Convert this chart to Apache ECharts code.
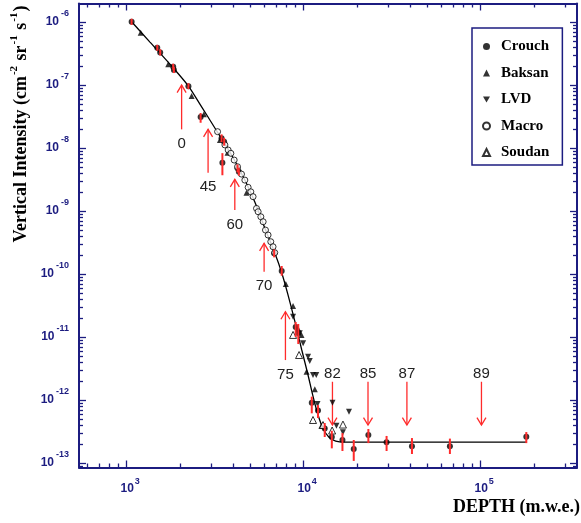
<!DOCTYPE html>
<html><head><meta charset="utf-8">
<script src="https://cdn.jsdelivr.net/npm/echarts@6/dist/echarts.min.js"></script>
<style>html,body{margin:0;padding:0;background:#fff}#c{width:581px;height:523px}</style>
</head><body><div id="c"></div>
<script>
// ---------- data (depth in m.w.e., intensity in cm^-2 sr^-1 s^-1) ----------
const crouchDepth = [1067, 1489, 1547, 1832, 1849, 2233, 2617, 3436, 3554, 3474, 4229, 4303, 6808, 7515, 9016, 9322, 11110, 12050, 13150, 14420, 16560, 19180, 23200, 29400, 40900, 67000, 181000];
const crouchIntensity = [1.01e-6, 3.91e-7, 3.30e-7, 1.95e-7, 1.73e-7, 9.6e-8, 3.10e-8, 1.43e-8, 1.26e-8, 5.85e-9, 4.76e-9, 4.21e-9, 2.13e-10, 1.12e-10, 1.44e-11, 1.16e-11, 9.06e-13, 6.81e-13, 3.53e-13, 2.59e-13, 2.32e-13, 1.67e-13, 2.78e-13, 2.13e-13, 1.84e-13, 1.84e-13, 2.62e-13];
const crouchErrLow = [0.90e-6, 3.5e-7, 2.95e-7, 1.75e-7, 1.55e-7, 8.6e-8, 2.52e-8, 1.24e-8, 1.09e-8, 3.7e-9, 4.1e-9, 3.65e-9, 1.84e-10, 9.4e-11, 1.0e-11, 7.74e-12, 6.15e-13, 5.18e-13, 2.59e-13, 1.71e-13, 1.55e-13, 1.08e-13, 2.07e-13, 1.55e-13, 1.39e-13, 1.39e-13, 2.07e-13];
const crouchErrHigh = [1.13e-6, 4.35e-7, 3.7e-7, 2.18e-7, 1.93e-7, 1.07e-7, 3.6e-8, 1.65e-8, 1.45e-8, 8.3e-9, 5.5e-9, 4.85e-9, 2.46e-10, 1.34e-10, 1.73e-11, 1.61e-11, 1.13e-12, 8.3e-13, 4.32e-13, 3.26e-13, 2.99e-13, 2.32e-13, 3.47e-13, 2.69e-13, 2.49e-13, 2.44e-13, 3.10e-13];

const baksanDepth = [1200, 1718, 2328, 2730, 3365, 3717, 4754, 7925, 8710, 9290, 9720, 10380, 11560, 12590];
const baksanIntensity = [6.76e-7, 2.13e-7, 6.68e-8, 3.43e-8, 1.34e-8, 8.4e-9, 1.95e-9, 6.93e-11, 3.10e-11, 1.37e-11, 1.08e-11, 2.81e-12, 1.48e-12, 3.91e-13];

const lvdDepth = [8710, 9500, 9930, 10590, 10820, 11290, 11780, 11970, 14550, 18030, 15310, 16670];
const lvdIntensity = [2.10e-11, 1.15e-11, 7.94e-12, 4.87e-12, 4.16e-12, 2.49e-12, 2.49e-12, 8.65e-13, 9.06e-13, 6.52e-13, 3.91e-13, 3.07e-13];

const macroDepth = [3263, 3590, 3745, 3878, 4050, 4230, 4454, 4652, 4856, 5028, 5178, 5414, 5530, 5728, 5903, 6085, 6295, 6518, 6714, 6866];
const macroIntensity = [1.82e-8, 1.12e-8, 9.3e-9, 8.24e-9, 6.45e-9, 5.05e-9, 3.86e-9, 3.10e-9, 2.38e-9, 2.02e-9, 1.69e-9, 1.10e-9, 9.75e-10, 8.12e-10, 6.76e-10, 4.99e-10, 4.16e-10, 3.26e-10, 2.71e-10, 2.18e-10];

const soudanDepth = [8710, 9418, 11290, 12860, 14480, 16670];
const soudanIntensity = [1.08e-11, 5.18e-12, 4.82e-13, 4.01e-13, 3.28e-13, 4.08e-13];

const fitDepth = [1067, 1354, 1755, 2233, 2593, 3150, 3828, 4652, 5297, 6032, 6869, 7522, 8135, 8910, 9757, 10550, 11250, 12010, 12820, 13860, 15180, 17060, 180900];
const fitIntensity = [1.011e-6, 4.81e-7, 2.15e-7, 9.64e-8, 4.99e-8, 2.08e-8, 8.64e-9, 3.11e-9, 1.39e-9, 5.37e-10, 2.15e-10, 1.04e-10, 4.81e-11, 1.79e-11, 6.22e-12, 2.59e-12, 1.20e-12, 6.00e-13, 3.60e-13, 2.59e-13, 2.23e-13, 2.15e-13, 2.15e-13];

// zenith-angle arrows: depth, tail intensity, tip intensity, label
const arrowLabels = ['0', '45', '60', '70', '75', '82', '85', '87', '89'];
const arrowDepth = [2044, 2884, 4083, 5977, 7888, 14540, 23090, 38300, 101000];
const arrowTail = [1.98e-8, 4.06e-9, 1.04e-9, 1.09e-10, 4.31e-12, 1.95e-12, 1.95e-12, 1.95e-12, 1.95e-12];
const arrowTip = [1.0e-7, 1.98e-8, 3.18e-9, 3.07e-10, 2.52e-11, 4.0e-13, 4.0e-13, 4.0e-13, 4.0e-13];

// axes
const xMin = 538, xMax = 3.5e5;
const yMin = 8.49e-14, yMax = 1.97e-6;
const xMajorTicks = [1e3, 1e4, 1e5];
const yMajorTicks = [1e-13, 1e-12, 1e-11, 1e-10, 1e-9, 1e-8, 1e-7, 1e-6];
const minorMantissas = [2, 3, 4, 5, 6, 7, 8, 9];
const xDecades = [1e2, 1e3, 1e4, 1e5];
const yDecades = [1e-14, 1e-13, 1e-12, 1e-11, 1e-10, 1e-9, 1e-8, 1e-7, 1e-6];
const xMinorTicks = [], yMinorTicks = [];
xDecades.forEach(d => minorMantissas.forEach(m => { const v = +(m * d).toPrecision(3); if (v > xMin && v < xMax) xMinorTicks.push(v); }));
yDecades.forEach(d => minorMantissas.forEach(m => { const v = +(m * d).toPrecision(3); if (v > yMin && v < yMax) yMinorTicks.push(v); }));

// ---------- chart ----------
const NAVY = '#1c1c80';
const RED = '#ff2b2b';
const chart = echarts.init(document.getElementById('c'), null, {renderer: 'canvas'});
const zip = (a, b) => a.map((v, i) => [v, b[i]]);
const supFmt = v => '{b|10}{s|' + Math.round(Math.log10(v)) + '}';

function makeAxis(pos, isX, major, showLine, showLabel) {
  return {
    type: 'log', logBase: 10, position: pos,
    min: isX ? xMin : yMin, max: isX ? xMax : yMax,
    axisLine: {show: showLine, onZero: false, lineStyle: {color: NAVY, width: 2}},
    axisTick: {show: true, inside: true, length: major ? 7 : 4,
      customValues: major ? (isX ? xMajorTicks : yMajorTicks) : (isX ? xMinorTicks : yMinorTicks),
      lineStyle: {color: NAVY, width: 1.3}},
    minorTick: {show: false},
    splitLine: {show: false},
    axisLabel: showLabel ? {
      show: true, customValues: isX ? xMajorTicks : yMajorTicks,
      margin: 10, formatter: supFmt,
      rich: isX ? {
        b: {fontSize: 12, fontWeight: 'bold', fontFamily: 'Liberation Sans', color: NAVY, padding: [0, 0, 0, 7]},
        s: {fontSize: 9, fontWeight: 'bold', fontFamily: 'Liberation Sans', color: NAVY, padding: [0, 0, 13, 1]}
      } : {
        b: {fontSize: 12, fontWeight: 'bold', fontFamily: 'Liberation Sans', color: NAVY},
        s: {fontSize: 9, fontWeight: 'bold', fontFamily: 'Liberation Sans', color: NAVY, padding: [0, 0, 17, 2]}
      }
    } : {show: false}
  };
}

const option = {
  backgroundColor: '#fff',
  animation: false,
  grid: {left: 79, right: 4, top: 3.5, bottom: 55.5, containLabel: false, outerBoundsMode: 'none'},
  xAxis: [
    makeAxis('bottom', true, true, true, true),
    makeAxis('bottom', true, false, false, false),
    makeAxis('top', true, true, true, false),
    makeAxis('top', true, false, false, false)
  ],
  yAxis: [
    makeAxis('left', false, true, true, true),
    makeAxis('left', false, false, false, false),
    makeAxis('right', false, true, true, false),
    makeAxis('right', false, false, false, false)
  ],
  legend: {
    orient: 'vertical', left: 472, top: 28,
    padding: [11, 13, 5, 10], itemGap: 11.5, itemWidth: 7, itemHeight: 7,
    borderColor: NAVY, borderWidth: 1.5, borderRadius: 0, backgroundColor: '#fff',
    textStyle: {fontFamily: 'Liberation Serif', fontWeight: 'bold', fontSize: 15, color: '#000', padding: [0, 0, 0, 6]},
    data: ['Crouch', 'Baksan', 'LVD', 'Macro', 'Soudan'],
    selectedMode: false
  },
  graphic: [
    {type: 'text', x: 21, y: 124, rotation: Math.PI / 2, silent: true,
      style: {
        text: '{t|Vertical Intensity (cm}{s|-2}{t| sr}{s|-1}{t| s}{s|-1}{t|)}',
        align: 'center', verticalAlign: 'middle',
        rich: {
          t: {fontFamily: 'Liberation Serif', fontWeight: 'bold', fontSize: 18, fill: '#000'},
          s: {fontFamily: 'Liberation Serif', fontWeight: 'bold', fontSize: 11, fill: '#000', padding: [0, 1, 14, 1]}
        }
      }},
    {type: 'text', x: 580, y: 507, silent: true,
      style: {text: 'DEPTH (m.w.e.)', align: 'right', verticalAlign: 'middle',
        fontFamily: 'Liberation Serif', fontWeight: 'bold', fontSize: 18, fill: '#000'}}
  ],
  series: [
    {name: 'fit', type: 'line', data: zip(fitDepth, fitIntensity), showSymbol: false, symbol: 'none',
      smooth: 0.25, lineStyle: {color: '#000', width: 1.3}, z: 1, silent: true},
    {name: 'Crouch', type: 'scatter', data: zip(crouchDepth, crouchIntensity), symbol: 'circle', symbolSize: 6,
      itemStyle: {color: '#000'}, z: 3},
    {name: 'Baksan', type: 'scatter', data: zip(baksanDepth, baksanIntensity), symbol: 'triangle', symbolSize: 6,
      itemStyle: {color: '#000'}, z: 3},
    {name: 'LVD', type: 'scatter', data: zip(lvdDepth, lvdIntensity), symbol: 'path://M0,0L10,0L5,8.66Z', symbolSize: 6,
      itemStyle: {color: '#000'}, z: 3},
    {name: 'Macro', type: 'scatter', data: zip(macroDepth, macroIntensity), symbol: 'circle', symbolSize: 6,
      itemStyle: {color: '#fff', borderColor: '#000', borderWidth: 1}, z: 3},
    {name: 'Soudan', type: 'scatter', data: zip(soudanDepth, soudanIntensity), symbol: 'triangle', symbolSize: 7,
      itemStyle: {color: '#fff', borderColor: '#000', borderWidth: 1}, z: 3},
    {name: 'Crouch errors', type: 'custom', z: 4, silent: true,
      data: crouchDepth.map((d, i) => [d, crouchErrLow[i], crouchErrHigh[i]]),
      encode: {x: 0, y: [1, 2]},
      renderItem: (params, api) => {
        const d = api.value(0);
        const p1 = api.coord([d, api.value(1)]);
        const p2 = api.coord([d, api.value(2)]);
        return {type: 'line', shape: {x1: p1[0], y1: p1[1], x2: p2[0], y2: p2[1]},
          style: {stroke: RED, lineWidth: 2}};
      }},
    {name: 'arrows', type: 'custom', z: 2, silent: true,
      data: arrowDepth.map((d, i) => [d, arrowTail[i], arrowTip[i]]),
      encode: {x: 0, y: [1, 2]},
      renderItem: (params, api) => {
        const d = api.value(0);
        const tail = api.coord([d, api.value(1)]);
        const tip = api.coord([d, api.value(2)]);
        const dir = tail[1] > tip[1] ? 1 : -1;
        const hw = 4.5, hl = 7.5;
        const ly = dir === 1 ? tail[1] + 14.5 : tail[1] - 8;
        return {type: 'group', children: [
          {type: 'line', shape: {x1: tail[0], y1: tail[1], x2: tip[0], y2: tip[1]}, style: {stroke: RED, lineWidth: 1.3}},
          {type: 'polyline', shape: {points: [[tip[0] - hw, tip[1] + dir * hl], [tip[0], tip[1]], [tip[0] + hw, tip[1] + dir * hl]]},
            style: {stroke: RED, lineWidth: 1.3, fill: 'none'}},
          {type: 'text', x: tip[0], y: ly, style: {text: arrowLabels[params.dataIndex], fill: '#222',
            fontFamily: 'Liberation Sans', fontSize: 15, align: 'center', verticalAlign: 'middle'}}
        ]};
      }}
  ]
};
chart.setOption(option);
</script></body></html>
